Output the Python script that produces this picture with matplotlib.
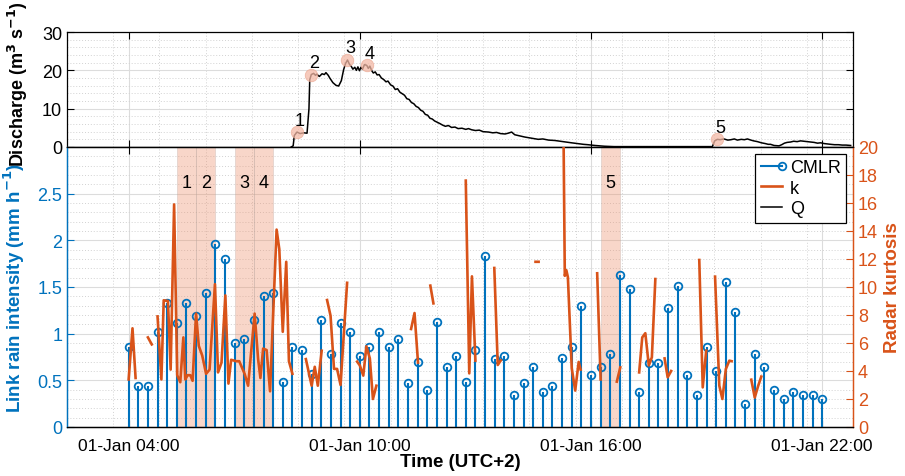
# CMLR rain intensity, radar kurtosis and discharge
import numpy as np
import matplotlib
matplotlib.use("Agg")
import matplotlib.pyplot as plt
from matplotlib.lines import Line2D
from matplotlib.legend_handler import HandlerLine2D

plt.rcParams['font.family'] = ['Liberation Sans', 'DejaVu Sans']

BLUE = '#0072BD'
ORANGE = '#D95319'
TICK_FS = 13
LABEL_FS = 13.5

# --- data (time in hours of 01-Jan, UTC+2) ---
cmlr_time = np.arange(4.0, 22.01, 0.25)
cmlr_rain = [0.86, 0.44, 0.44, 1.02, 1.33, 1.11, 1.33, 1.19, 1.44, 1.96,
             1.80, 0.90, 0.94, 1.15, 1.40, 1.44, 0.48, 0.86, 0.83, 0.57,
             1.15, 0.78, 1.11, 1.02, 0.76, 0.86, 1.02, 0.86, 0.94, 0.47,
             0.70, 0.40, 1.13, 0.64, 0.76, 0.48, 0.83, 1.83, 0.73, 0.76,
             0.34, 0.47, 0.64, 0.38, 0.44, 0.74, 0.86, 1.30, 0.56, 0.64,
             0.78, 1.63, 1.48, 0.38, 0.69, 0.69, 1.27, 1.51, 0.56, 0.34,
             0.86, 0.60, 1.55, 1.23, 0.25, 0.78, 0.64, 0.40, 0.30, 0.38,
             0.34, 0.34, 0.30]

nan = np.nan
k_time = [4.00, 4.10, 4.18, nan,
          4.50, 4.60, nan,
          4.75, 4.85, 4.91, 5.02, 5.09, 5.18, 5.26, 5.34, 5.42, 5.47,
          5.53, 5.60, 5.66, 5.75, 5.82, 5.91, 6.01, 6.10, 6.24, 6.32,
          6.41, 6.51, 6.59, 6.66, 6.79, 6.87, 7.01, 7.10, 7.27, 7.36,
          7.42, 7.49, 7.58, 7.67, 7.84, 7.91, 8.00, 8.09, 8.16, 8.25, nan,
          8.60, 8.75, 8.83, 8.91, 9.01, nan,
          9.15, 9.24, 9.33, 9.41, 9.50, 9.67, nan,
          9.93, 10.00, 10.09, 10.17, 10.26, 10.34, 10.43, nan,
          11.33, 11.42, 11.51, nan,
          11.83, 11.91, nan,
          12.75, 12.84, 12.91, 13.00, nan,
          13.49, 13.58, 13.66, nan,
          14.56, 14.64, nan,
          15.29, 15.32, 15.36, 15.40, 15.50, 15.59, 15.68, 15.73, nan,
          16.16, 16.25, nan,
          16.67, 16.76, nan,
          17.25, 17.33, 17.41, 17.50, 17.58, 17.67, nan,
          17.91, 17.99, 18.08, nan,
          18.81, 18.90, 18.99, nan,
          19.22, 19.33, 19.41, 19.50, 19.59, 19.65, nan,
          20.16, 20.25, 20.34, 20.42]
k_value = [3.4, 7.05, 3.5, nan,
           6.4, 5.9, nan,
           7.9, 3.4, 9.05, 9.0, 4.1, 15.9, 3.7, 3.2, 6.4, 3.4,
           3.7, 3.7, 3.3, 8.1, 5.8, 5.1, 3.8, 4.1, 10.2, 3.9,
           4.6, 9.4, 3.1, 4.8, 4.7, 4.7, 3.8, 2.95, 8.1, 4.85,
           3.5, 5.6, 5.5, 2.55, 14.1, 12.7, 6.8, 11.8, 4.7, 3.8, nan,
           4.85, 2.95, 4.3, 2.95, 5.45, nan,
           9.07, 7.95, 4.15, 4.15, 3.0, 10.3, nan,
           4.67, 4.4, 3.67, 5.76, 4.9, 2.0, 2.95, nan,
           7.0, 8.14, 4.6, nan,
           10.1, 8.83, nan,
           17.6, 3.83, 10.76, 4.74, nan,
           11.36, 4.43, 4.76, nan,
           11.8, 11.8, nan,
           20.0, 10.8, 11.2, 10.7, 4.2, 2.6, 4.65, 4.1, nan,
           10.98, 3.4, nan,
           3.24, 4.26, nan,
           3.9, 6.4, 6.7, 4.4, 4.98, 10.57, nan,
           4.9, 3.55, 4.0, nan,
           11.93, 2.83, 5.45, nan,
           10.74, 2.95, 2.0, 4.14, 4.74, 4.7, nan,
           3.38, 2.1, 2.95, 3.6]

q_time = [8.22, 8.27, 8.30, 8.37, 8.45, 8.55, 8.63, 8.68, 8.70, 8.74,
          8.80, 8.85, 8.88, 8.95, 9.02, 9.08, 9.12, 9.18, 9.22, 9.30,
          9.38, 9.45, 9.52, 9.58, 9.63, 9.68, 9.73, 9.78, 9.82, 9.87,
          9.91, 9.95, 9.99, 10.03, 10.07, 10.12, 10.18, 10.22, 10.26, 10.31,
          10.35, 10.40, 10.45, 10.50, 10.56, 10.62, 10.68, 10.73, 10.80, 10.86,
          10.92, 10.98, 11.04, 11.10, 11.16, 11.22, 11.28, 11.34, 11.40, 11.46,
          11.52, 11.58, 11.64, 11.70, 11.76, 11.82, 11.88, 11.94, 12.00, 12.08,
          12.15, 12.22, 12.30, 12.38, 12.47, 12.55, 12.65, 12.75, 12.82, 12.90,
          13.00, 13.10, 13.20, 13.34, 13.45, 13.55, 13.65, 13.77, 13.85, 13.94,
          14.02, 14.15, 14.28, 14.40, 14.52, 14.63, 14.75, 14.90, 15.06, 15.20,
          15.35, 15.49, 15.65, 15.80, 15.92, 16.10, 16.35, 16.60, 17.00, 17.50,
          18.00, 18.50, 19.00, 19.15, 19.21, 19.28, 19.35, 19.45, 19.55, 19.63,
          19.72, 19.80, 19.90, 19.98, 20.06, 20.15, 20.22, 20.32, 20.42, 20.52,
          20.60, 20.66, 20.75, 20.88, 20.95, 21.02, 21.09, 21.18, 21.26, 21.35,
          21.44, 21.52, 21.60, 21.70, 21.79, 21.88, 21.96, 22.05, 22.13, 22.22,
          22.32, 22.42, 22.52, 22.62, 22.74]
q_flow = [0.0, 0.3, 3.0, 3.9, 3.5, 3.7, 3.6, 10.0, 17.5, 18.9,
          19.2, 18.7, 19.0, 18.4, 19.1, 18.9, 19.4, 18.7, 18.0, 16.8,
          16.1, 15.9, 17.3, 20.2, 21.8, 22.7, 21.6, 21.0, 20.3, 20.8,
          20.0, 20.9, 19.9, 20.8, 20.3, 21.5, 21.3, 20.5, 21.1, 19.9,
          19.3, 19.6, 18.8, 18.9, 18.0, 17.6, 17.0, 17.2, 16.2, 15.9,
          15.0, 15.2, 14.3, 13.9, 13.5, 12.6, 12.4, 11.6, 11.3, 10.6,
          10.3, 9.6, 9.3, 8.5, 8.3, 7.5, 7.3, 6.8, 6.5, 6.1,
          5.7, 5.4, 5.6, 5.1, 5.2, 4.8, 4.9, 4.6, 4.8, 4.5,
          4.3, 4.4, 4.0, 3.9, 3.7, 3.8, 3.5, 3.4, 3.6, 3.9,
          3.2, 2.9, 2.6, 2.4, 2.2, 2.0, 2.1, 1.8, 1.7, 1.5,
          1.3, 1.1, 0.9, 0.7, 0.6, 0.4, 0.2, 0.1, 0.1, 0.1,
          0.1, 0.1, 0.1, 0.1, 1.6, 2.0, 1.9, 2.1, 1.8, 1.9,
          2.1, 1.8, 2.0, 1.9, 2.1, 1.8, 1.6, 1.4, 1.1, 0.9,
          0.7, 0.7, 0.4, 0.3, 0.6, 1.0, 1.2, 1.3, 1.5, 1.4,
          1.6, 1.5, 1.4, 1.3, 1.2, 1.0, 1.1, 0.9, 0.8, 0.7,
          0.6, 0.6, 0.5, 0.5, 0.4]

event_labels = ['1', '2', '3', '4', '5']
event_time = [8.37, 8.74, 9.68, 10.18, 19.28]
event_q = [3.9, 18.9, 22.7, 21.3, 2.0]
window_start = [5.25, 5.75, 6.75, 7.25, 16.25]
window_end = [5.75, 6.25, 7.25, 7.75, 16.75]

xtick_pos = [4, 10, 16, 22]
xtick_labels = ['01-Jan 04:00', '01-Jan 10:00', '01-Jan 16:00', '01-Jan 22:00']

# --- figure / axes in pixel layout ---
W, H = 905, 477
fig = plt.figure(figsize=(W / 100, H / 100), dpi=100)
L, R = 67, 853
ax_q = fig.add_axes([L / W, 1 - 148 / H, (R - L) / W, 115 / H])
ax = fig.add_axes([L / W, 1 - 428 / H, (R - L) / W, 280 / H])
ax2 = ax.twinx()

XMIN, XMAX = 2.4, 22.8
xminor = np.arange(XMIN, XMAX + 0.01, 1.2)
grid_major = dict(color='#dcdcdc', lw=0.8, ls='-')
grid_minor = dict(color='#d2d2d2', lw=0.7, ls=(0, (1, 2)))

for a in (ax_q, ax):
    a.set_xlim(XMIN, XMAX)
    a.set_xticks(xtick_pos)
    a.set_xticks(xminor, minor=True)
    a.set_axisbelow(True)
    a.grid(True, which='major', **grid_major)
    a.grid(True, which='minor', **grid_minor)
    a.tick_params(which='major', direction='in', length=5, width=0.8,
                  top=True, labelsize=TICK_FS)
    a.tick_params(which='minor', length=0)

# --- discharge panel ---
ax_q.plot(q_time, q_flow, color='black', lw=1.1, zorder=3)
ax_q.plot(event_time, event_q, 'o', ms=9, color='#f4b9a6', alpha=0.75,
          mec='#eaa893', mew=0.6, zorder=4)
for lab, t, q in zip(event_labels, event_time, event_q):
    ax_q.annotate(lab, (t, q), xytext=(3, 12), textcoords='offset pixels',
                  ha='center', va='center', fontsize=TICK_FS, zorder=5)
ax_q.set_ylim(0, 30)
ax_q.set_yticks([0, 10, 20, 30])
ax_q.set_yticks(np.arange(0, 30, 2), minor=True)
ax_q.tick_params(axis='y', right=True)
ax_q.tick_params(axis='x', labelbottom=False)
ax_q.set_ylabel('Discharge (m$^{\\mathbf{3}}$ s$^{\\mathbf{-1}}$)',
                fontsize=13, fontweight='bold')
ax_q.yaxis.set_label_coords(-0.047, 0.55)
for s in ax_q.spines.values():
    s.set_linewidth(0.9)

# --- rain / kurtosis panel ---
for x0, x1 in zip(window_start, window_end):
    ax.axvspan(x0, x1, facecolor=(0.93, 0.55, 0.40), alpha=0.35,
               edgecolor='#b8a8a0', lw=0.6, zorder=1)
for lab, x0, x1 in zip(event_labels, window_start, window_end):
    ax.text((x0 + x1) / 2, 2.62, lab, ha='center', va='center',
            fontsize=TICK_FS, zorder=2)

markers, stems, base = ax.stem(cmlr_time, cmlr_rain, basefmt=' ')
plt.setp(stems, color=BLUE, lw=1.5, zorder=3)
plt.setp(markers, color=BLUE, marker='o', ms=5.5, mfc='none', mew=1.3,
         zorder=4)

ax.set_ylim(0, 3)
ax.set_yticks([0, 0.5, 1, 1.5, 2, 2.5])
ax.set_yticklabels(['0', '0.5', '1', '1.5', '2', '2.5'])
ax.set_yticks(np.arange(0, 3, 0.1), minor=True)
ax.set_xticklabels(xtick_labels)
ax.tick_params(axis='y', colors=BLUE)
ax.tick_params(axis='x', pad=8, labelsize=12.5)
ax.set_xlabel('Time (UTC+2)', fontsize=LABEL_FS, fontweight='bold',
              labelpad=0)
ax.set_ylabel('Link rain intensity (mm h$^{\\mathbf{-1}}$)', color=BLUE,
              fontsize=LABEL_FS, fontweight='bold')
ax.yaxis.set_label_coords(-0.051, 0.5)

ax2.plot(k_time, k_value, color=ORANGE, lw=1.9, zorder=3)
ax2.set_ylim(0, 20)
ax2.set_yticks(np.arange(0, 21, 2))
ax2.tick_params(axis='y', colors=ORANGE, direction='in', length=5,
                labelsize=TICK_FS)
ax2.set_ylabel('Radar kurtosis', color=ORANGE, fontsize=LABEL_FS,
               fontweight='bold')
ax2.yaxis.set_label_coords(1.040, 0.5)

for a in (ax, ax2):
    for s in a.spines.values():
        s.set_linewidth(0.9)
    a.spines['left'].set_color(BLUE)
    a.spines['right'].set_color(ORANGE)

# --- legend ---
h_cmlr = Line2D([], [], color=BLUE, lw=1.5, marker='o', ms=5.5, mfc='none',
                mew=1.3)
h_k = Line2D([], [], color=ORANGE, lw=1.9)
h_q = Line2D([], [], color='black', lw=1.1)


def marker_at_end(legline, orig):
    legline.update_from(orig)
    legline.set_markevery([2])


leg = ax2.legend([h_cmlr, h_k, h_q], ['CMLR', 'k', 'Q'],
                 handler_map={h_cmlr: HandlerLine2D(numpoints=1,
                                                    update_func=marker_at_end)},
                 loc='upper right', bbox_to_anchor=(0.991, 0.976),
                 borderaxespad=0, fancybox=False, framealpha=1,
                 edgecolor='black', fontsize=TICK_FS, handlelength=1.2,
                 handletextpad=0.4, labelspacing=0.2, borderpad=0.3)
leg.get_frame().set_linewidth(0.9)

fig.savefig('out.png', dpi=100)
